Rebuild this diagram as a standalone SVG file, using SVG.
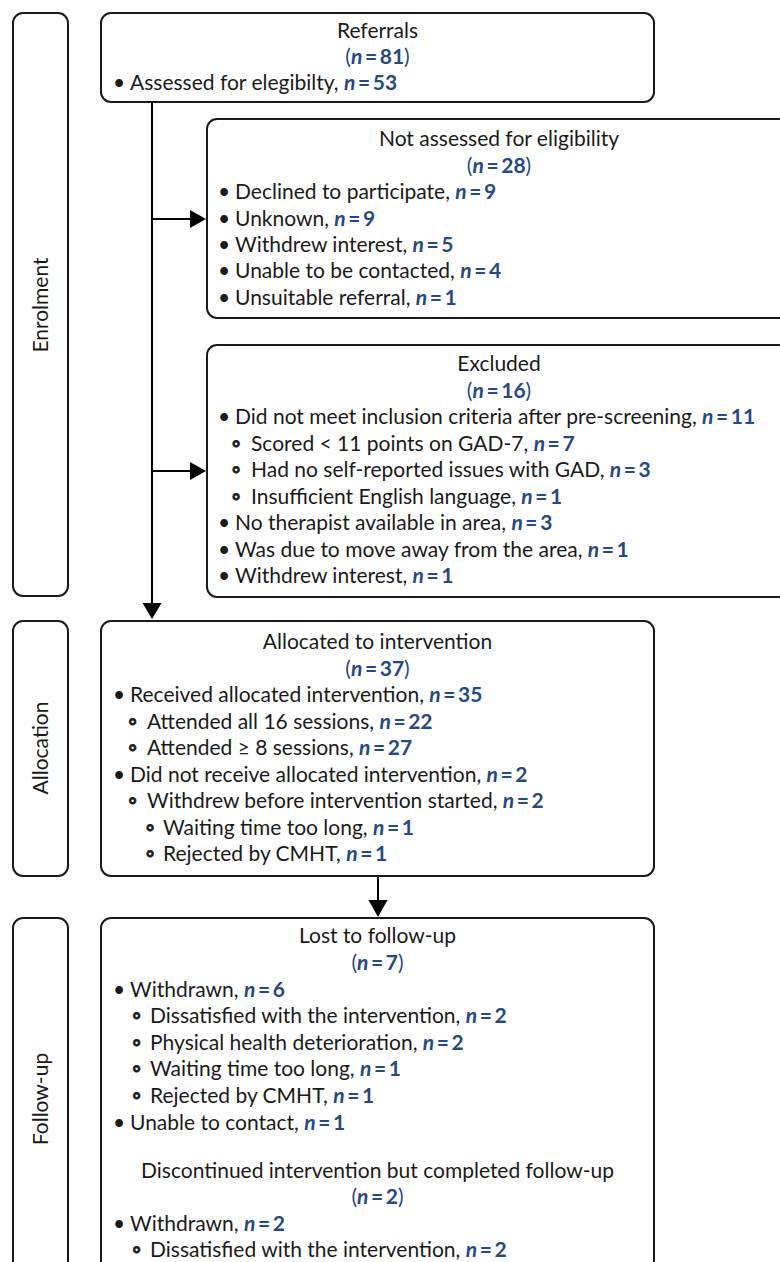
<svg xmlns="http://www.w3.org/2000/svg" width="780" height="1262" viewBox="0 0 780 1262">
<style>
.t{font-family:Lato,'Liberation Sans',sans-serif;font-size:21px;fill:#1a1a1a}
.c{text-anchor:middle}
.n{fill:#234a86;font-weight:bold;word-spacing:-2.5px}
.i{font-style:italic}
.p{fill:#234a86}
.o{font-size:22px;font-weight:bold;stroke:#1a1a1a;stroke-width:0.7}
.box{fill:#fff;stroke:#1a1a1a;stroke-width:2}
.ln{stroke:#000;stroke-width:2;fill:none}
.ah{fill:#000}
</style>
<rect width="780" height="1262" fill="#fff"/>
<g id="stage-enrolment">
<rect class="box" x="13" y="13" width="55" height="583" rx="10"/>
<text class="t c" transform="translate(48,305) rotate(-90)">Enrolment</text>
</g>
<g id="stage-allocation">
<rect class="box" x="13" y="621" width="55" height="255" rx="10"/>
<text class="t c" transform="translate(48,748) rotate(-90)">Allocation</text>
</g>
<g id="stage-followup">
<rect class="box" x="13" y="918" width="55" height="362" rx="10"/>
<text class="t c" transform="translate(48,1099) rotate(-90)">Follow-up</text>
</g>
<g id="connectors">
<line class="ln" x1="152" y1="102" x2="152" y2="604"/>
<polygon class="ah" points="142.5,603 161.5,603 152,619"/>
<line class="ln" x1="152" y1="219" x2="191" y2="219"/>
<polygon class="ah" points="190,210 190,228 206,219"/>
<line class="ln" x1="152" y1="471" x2="191" y2="471"/>
<polygon class="ah" points="190,462 190,480 206,471"/>
<line class="ln" x1="378" y1="876" x2="378" y2="901"/>
<polygon class="ah" points="368.5,900 387.5,900 378,917"/>
</g>
<g id="referrals">
<rect class="box" x="101" y="13" width="553" height="89" rx="10"/>
<text class="t c" x="377.5" y="38">Referrals</text>
<text class="t c" x="377.5" y="64"><tspan class="p">(</tspan><tspan class="n i">n</tspan><tspan class="n"> = 81</tspan><tspan class="p">)</tspan></text>
<text class="t" y="90"><tspan x="113">•</tspan><tspan x="130">Assessed for elegibilty, </tspan><tspan class="n i">n</tspan><tspan class="n"> = 53</tspan></text>
</g>
<g id="not-assessed">
<rect class="box" x="207" y="119" width="585" height="199" rx="10"/>
<text class="t c" x="499" y="146">Not assessed for eligibility</text>
<text class="t c" x="499" y="172.5"><tspan class="p">(</tspan><tspan class="n i">n</tspan><tspan class="n"> = 28</tspan><tspan class="p">)</tspan></text>
<text class="t" y="199"><tspan x="218">•</tspan><tspan x="235">Declined to participate, </tspan><tspan class="n i">n</tspan><tspan class="n"> = 9</tspan></text>
<text class="t" y="225.5"><tspan x="218">•</tspan><tspan x="235">Unknown, </tspan><tspan class="n i">n</tspan><tspan class="n"> = 9</tspan></text>
<text class="t" y="252"><tspan x="218">•</tspan><tspan x="235">Withdrew interest, </tspan><tspan class="n i">n</tspan><tspan class="n"> = 5</tspan></text>
<text class="t" y="278"><tspan x="218">•</tspan><tspan x="235">Unable to be contacted, </tspan><tspan class="n i">n</tspan><tspan class="n"> = 4</tspan></text>
<text class="t" y="304.5"><tspan x="218">•</tspan><tspan x="235">Unsuitable referral, </tspan><tspan class="n i">n</tspan><tspan class="n"> = 1</tspan></text>
</g>
<g id="excluded">
<rect class="box" x="207" y="345" width="585" height="252" rx="10"/>
<text class="t c" x="499" y="371">Excluded</text>
<text class="t c" x="499" y="397.5"><tspan class="p">(</tspan><tspan class="n i">n</tspan><tspan class="n"> = 16</tspan><tspan class="p">)</tspan></text>
<text class="t" y="424"><tspan x="218">•</tspan><tspan x="235">Did not meet inclusion criteria after pre-screening, </tspan><tspan class="n i">n</tspan><tspan class="n"> = 11</tspan></text>
<text class="t" y="450.5"><tspan class="o" x="231.5">◦</tspan><tspan x="251">Scored &lt; 11 points on GAD-7, </tspan><tspan class="n i">n</tspan><tspan class="n"> = 7</tspan></text>
<text class="t" y="477"><tspan class="o" x="231.5">◦</tspan><tspan x="251">Had no self-reported issues with GAD, </tspan><tspan class="n i">n</tspan><tspan class="n"> = 3</tspan></text>
<text class="t" y="503.5"><tspan class="o" x="231.5">◦</tspan><tspan x="251">Insufficient English language, </tspan><tspan class="n i">n</tspan><tspan class="n"> = 1</tspan></text>
<text class="t" y="530"><tspan x="218">•</tspan><tspan x="235">No therapist available in area, </tspan><tspan class="n i">n</tspan><tspan class="n"> = 3</tspan></text>
<text class="t" y="556.5"><tspan x="218">•</tspan><tspan x="235">Was due to move away from the area, </tspan><tspan class="n i">n</tspan><tspan class="n"> = 1</tspan></text>
<text class="t" y="583"><tspan x="218">•</tspan><tspan x="235">Withdrew interest, </tspan><tspan class="n i">n</tspan><tspan class="n"> = 1</tspan></text>
</g>
<g id="allocated">
<rect class="box" x="101" y="621" width="553" height="255" rx="10"/>
<text class="t c" x="377.5" y="649">Allocated to intervention</text>
<text class="t c" x="377.5" y="675.5"><tspan class="p">(</tspan><tspan class="n i">n</tspan><tspan class="n"> = 37</tspan><tspan class="p">)</tspan></text>
<text class="t" y="702"><tspan x="113">•</tspan><tspan x="130">Received allocated intervention, </tspan><tspan class="n i">n</tspan><tspan class="n"> = 35</tspan></text>
<text class="t" y="728.5"><tspan class="o" x="128">◦</tspan><tspan x="147">Attended all 16 sessions, </tspan><tspan class="n i">n</tspan><tspan class="n"> = 22</tspan></text>
<text class="t" y="755"><tspan class="o" x="128">◦</tspan><tspan x="147">Attended ≥ 8 sessions, </tspan><tspan class="n i">n</tspan><tspan class="n"> = 27</tspan></text>
<text class="t" y="781.5"><tspan x="113">•</tspan><tspan x="130">Did not receive allocated intervention, </tspan><tspan class="n i">n</tspan><tspan class="n"> = 2</tspan></text>
<text class="t" y="808"><tspan class="o" x="128">◦</tspan><tspan x="147">Withdrew before intervention started, </tspan><tspan class="n i">n</tspan><tspan class="n"> = 2</tspan></text>
<text class="t" y="834.5"><tspan class="o" x="145.5">◦</tspan><tspan x="163">Waiting time too long, </tspan><tspan class="n i">n</tspan><tspan class="n"> = 1</tspan></text>
<text class="t" y="861"><tspan class="o" x="145.5">◦</tspan><tspan x="163">Rejected by CMHT, </tspan><tspan class="n i">n</tspan><tspan class="n"> = 1</tspan></text>
</g>
<g id="lost">
<rect class="box" x="101" y="918" width="553" height="370" rx="10"/>
<text class="t c" x="377.5" y="943">Lost to follow-up</text>
<text class="t c" x="377.5" y="969.5"><tspan class="p">(</tspan><tspan class="n i">n</tspan><tspan class="n"> = 7</tspan><tspan class="p">)</tspan></text>
<text class="t" y="996.5"><tspan x="113">•</tspan><tspan x="130">Withdrawn, </tspan><tspan class="n i">n</tspan><tspan class="n"> = 6</tspan></text>
<text class="t" y="1023"><tspan class="o" x="132">◦</tspan><tspan x="150">Dissatisfied with the intervention, </tspan><tspan class="n i">n</tspan><tspan class="n"> = 2</tspan></text>
<text class="t" y="1049.5"><tspan class="o" x="132">◦</tspan><tspan x="150">Physical health deterioration, </tspan><tspan class="n i">n</tspan><tspan class="n"> = 2</tspan></text>
<text class="t" y="1076"><tspan class="o" x="132">◦</tspan><tspan x="150">Waiting time too long, </tspan><tspan class="n i">n</tspan><tspan class="n"> = 1</tspan></text>
<text class="t" y="1102.5"><tspan class="o" x="132">◦</tspan><tspan x="150">Rejected by CMHT, </tspan><tspan class="n i">n</tspan><tspan class="n"> = 1</tspan></text>
<text class="t" y="1129.5"><tspan x="113">•</tspan><tspan x="130">Unable to contact, </tspan><tspan class="n i">n</tspan><tspan class="n"> = 1</tspan></text>
<text class="t c" x="377.5" y="1177.5">Discontinued intervention but completed follow-up</text>
<text class="t c" x="377.5" y="1204"><tspan class="p">(</tspan><tspan class="n i">n</tspan><tspan class="n"> = 2</tspan><tspan class="p">)</tspan></text>
<text class="t" y="1230.5"><tspan x="113">•</tspan><tspan x="130">Withdrawn, </tspan><tspan class="n i">n</tspan><tspan class="n"> = 2</tspan></text>
<text class="t" y="1257"><tspan class="o" x="132">◦</tspan><tspan x="150">Dissatisfied with the intervention, </tspan><tspan class="n i">n</tspan><tspan class="n"> = 2</tspan></text>
</g>
</svg>
